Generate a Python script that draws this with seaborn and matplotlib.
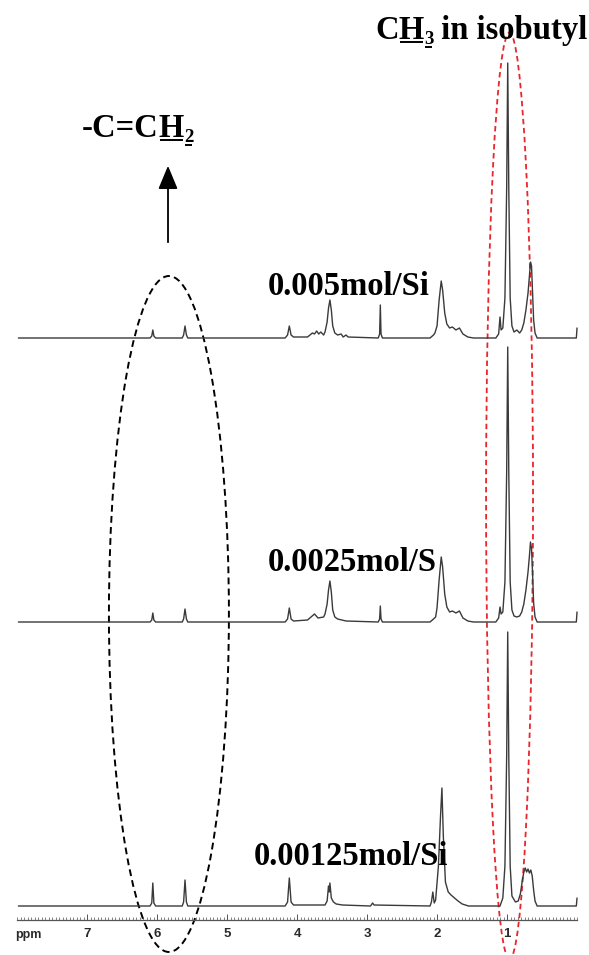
"""Stacked 1H NMR spectra for three vinyl loadings (0.005 / 0.0025 / 0.00125 mol/Si)."""

import matplotlib
matplotlib.use("Agg")
import matplotlib.pyplot as plt
import matplotlib.patches as mpatches
from matplotlib.ticker import FixedLocator, NullFormatter
from matplotlib.transforms import offset_copy
import numpy as np
import pandas as pd
import seaborn as sns

# ---- data (ppm, relative intensity) ----
TOP_PPM = [7.98, 6.10, 6.075, 6.06, 6.045, 6.02, 5.64, 5.62, 5.60, 5.58, 5.56,
           4.17, 4.135, 4.11, 4.085, 4.05, 3.85, 3.78, 3.75, 3.72, 3.69, 3.66, 3.62,
           3.60, 3.57, 3.55, 3.53, 3.51, 3.49, 3.46, 3.42, 3.37, 3.34, 3.30, 3.27,
           2.84, 2.82, 2.81, 2.80, 2.78, 2.10, 2.05, 2.03, 2.00, 1.97, 1.94, 1.92,
           1.89, 1.86, 1.82, 1.78, 1.73, 1.68, 1.63, 1.56, 1.48, 1.16, 1.12, 1.10,
           1.085, 1.06, 1.03, 1.005, 0.99, 0.975, 0.955, 0.93, 0.90, 0.86, 0.82,
           0.79, 0.76, 0.73, 0.70, 0.68, 0.665, 0.65, 0.635, 0.62, 0.60, 0.57,
           0.01, 0.0]
TOP_INT = [0, 0, 2, 8, 2, 0, 0, 3, 12, 3, 0,
           0, 3, 12, 3, 1, 1, 5, 4, 7, 4, 6, 3,
           6, 16, 30, 38, 28, 12, 5, 3, 4, 1, 3, 1,
           0, 4, 33, 4, 0, 0, 3, 5, 12, 38, 57, 48,
           25, 14, 10, 11, 8, 10, 4, 1, 0, 0, 4, 21,
           8, 10, 40, 150, 275, 150, 40, 12, 6, 8, 5,
           8, 15, 28, 45, 62, 76, 72, 45, 18, 5, 0,
           0, 10]

MID_PPM = [7.98, 6.10, 6.075, 6.06, 6.045, 6.02, 5.64, 5.62, 5.60, 5.58, 5.56,
           4.17, 4.135, 4.11, 4.085, 4.05, 3.85, 3.80, 3.75, 3.70, 3.62,
           3.60, 3.57, 3.55, 3.53, 3.51, 3.49, 3.46, 3.42, 3.30,
           2.84, 2.82, 2.81, 2.80, 2.78, 2.10, 2.05, 2.02, 2.00, 1.97, 1.94, 1.92,
           1.89, 1.86, 1.82, 1.78, 1.73, 1.68, 1.63, 1.56, 1.48, 1.16, 1.12, 1.10,
           1.085, 1.06, 1.03, 1.005, 0.99, 0.975, 0.955, 0.93, 0.90, 0.86, 0.82,
           0.79, 0.76, 0.73, 0.70, 0.68, 0.665, 0.65, 0.635, 0.62, 0.60, 0.57,
           0.01, 0.0]
MID_INT = [0, 0, 2, 9, 2, 0, 0, 3, 13, 3, 0,
           0, 3, 14, 3, 1, 2, 5, 8, 4, 5,
           8, 18, 32, 41, 30, 12, 5, 3, 1,
           0, 3, 16, 3, 0, 0, 3, 5, 14, 42, 65, 55,
           28, 15, 10, 11, 9, 11, 4, 1, 0, 0, 4, 15,
           8, 10, 40, 150, 275, 150, 40, 12, 6, 5, 6,
           10, 18, 32, 50, 66, 80, 74, 48, 19, 5, 0,
           0, 10]

BOT_PPM = [7.98, 6.10, 6.075, 6.06, 6.045, 6.02, 5.64, 5.62, 5.60, 5.58, 5.56,
           4.17, 4.135, 4.11, 4.085, 4.05, 3.60, 3.57, 3.55, 3.54, 3.53, 3.51,
           3.48, 3.44, 3.35, 2.95, 2.92, 2.90, 2.10, 2.08, 2.06, 2.04, 2.02,
           1.98, 1.95, 1.93, 1.91, 1.88, 1.84, 1.80, 1.75, 1.70, 1.64, 1.55,
           1.10, 1.06, 1.03, 1.005, 0.99, 0.975, 0.955, 0.93, 0.88, 0.84, 0.81,
           0.78, 0.76, 0.74, 0.72, 0.70, 0.68, 0.66, 0.64, 0.62, 0.60, 0.57,
           0.01, 0.0]
BOT_INT = [0, 0, 3, 23, 3, 0, 0, 4, 26, 4, 0,
           0, 4, 28, 4, 1, 1, 5, 20, 14, 23, 8,
           4, 2, 1, 0, 3, 1, 0, 4, 14, 3, 6,
           40, 90, 118, 70, 24, 14, 11, 8, 5, 2, 0,
           0, 8, 40, 150, 274, 150, 40, 10, 4, 5, 12,
           26, 34, 38, 34, 37, 33, 36, 30, 16, 5, 0,
           0, 8]

SAMPLES = ["0.005mol/Si", "0.0025mol/S", "0.00125mol/Si"]
AXIS_TICKS = [1, 2, 3, 4, 5, 6, 7]

# ---- layout (vertical offsets of the stacked traces, in intensity units) ----
OFFSETS = [582, 298, 14]
LABEL_POS = [(4.414, 625), (4.414, 349), (4.614, 55)]

LINE = "#3a3a3a"
FS = 23.5

sns.set_theme(style="white")
plt.rcParams["font.family"] = ["Liberation Serif", "DejaVu Serif"]

fig = plt.figure(figsize=(5.89, 9.55), dpi=100)
ax = fig.add_axes([0, 0, 1, 1])

traces = [(TOP_PPM, TOP_INT), (MID_PPM, MID_INT), (BOT_PPM, BOT_INT)]
for (ppm, inten), off in zip(traces, OFFSETS):
    df = pd.DataFrame({"ppm": ppm, "y": np.asarray(inten, float) + off})
    sns.lineplot(data=df, x="ppm", y="y", ax=ax, color=LINE, linewidth=1.0,
                 sort=False, estimator=None)

ax.set_xlim(8.243, -0.171)
ax.set_ylim(-35, 920)
ax.set_xlabel("")
ax.set_ylabel("")
ax.set_facecolor("white")

# ruler-style ppm axis
for s in ["top", "left", "right"]:
    ax.spines[s].set_visible(False)
ax.spines["bottom"].set_position(("data", 0))
ax.spines["bottom"].set_bounds(0, 8)
ax.spines["bottom"].set_color("#555555")
ax.spines["bottom"].set_linewidth(0.9)
ax.xaxis.set_major_locator(FixedLocator(AXIS_TICKS))
ax.xaxis.set_minor_locator(FixedLocator(np.arange(0, 8.001, 0.05)))
ax.xaxis.set_minor_formatter(NullFormatter())
ax.set_xticklabels([str(t) for t in AXIS_TICKS], family="Liberation Sans",
                   fontsize=9.5, fontweight="bold", color="#2a2a2a")
ax.tick_params(axis="x", which="major", direction="in", length=4.5, width=0.7,
               color="#555555", pad=6, bottom=True)
ax.tick_params(axis="x", which="minor", direction="in", length=2.5, width=0.5,
               color="#555555", bottom=True)
ax.set_yticks([])
ax.text(7.84, -15, "ppm", family="Liberation Sans", fontsize=9, fontweight="bold",
        color="#2a2a2a", ha="center", va="center")

# sample labels
for name, (lx, ly) in zip(SAMPLES, LABEL_POS):
    ax.text(lx, ly, name, fontsize=FS, fontweight="bold", ha="left", va="baseline",
            color="black")

# dashed ellipses
ax.add_patch(mpatches.Ellipse((5.83, 306), 1.714, 676, fill=False, edgecolor="black",
                              linestyle=(0, (3.5, 2.2)), linewidth=1.4))
ax.add_patch(mpatches.Ellipse((0.964, 424), 0.671, 927, fill=False, edgecolor="#e8262b",
                              linestyle=(0, (3, 2)), linewidth=1.3))

# arrow under the vinyl label
ax.annotate("", xy=(5.843, 757), xytext=(5.843, 675),
            arrowprops=dict(arrowstyle="-|>,head_length=1.2,head_width=0.5",
                            color="black", lw=1.3))


def rich_text(x, y, runs):
    """Draw text runs (text, is_subscript, underlined) one after another."""
    renderer = fig.canvas.get_renderer()
    dx = 0.0
    inv = ax.transData.inverted()
    for txt, sub, under in runs:
        fs = FS * 0.58 if sub else FS
        dy = -FS * 1.389 * 0.14 if sub else 0.0
        tr = offset_copy(ax.transData, fig=fig, x=dx, y=dy, units="dots")
        t = ax.text(x, y, txt, transform=tr, fontsize=fs, fontweight="bold",
                    ha="left", va="baseline", color="black")
        bb = t.get_window_extent(renderer)
        if under:
            x0d, y0d = ax.transData.transform((x, y))
            uy = y0d + dy - 3.5
            p0 = inv.transform((bb.x0 + 1, uy))
            p1 = inv.transform((bb.x1 - 1, uy))
            ax.plot([p0[0], p1[0]], [p0[1], p1[1]], color="black", lw=1.4,
                    solid_capstyle="butt")
        dx += bb.width


rich_text(2.886, 881, [("C", False, False), ("H", False, True), ("3", True, True),
                       (" in isobutyl", False, False)])
rich_text(7.071, 783, [("-C=C", False, False), ("H", False, True), ("2", True, True)])

fig.savefig("out.png", dpi=100, facecolor="white")
